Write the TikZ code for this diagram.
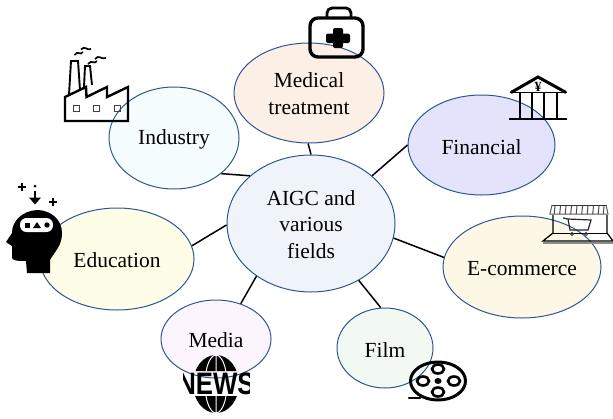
\documentclass[tikz,border=0pt]{standalone}
\usepackage{fontspec}
\setmainfont{Liberation Serif}
\newfontfamily\newsfont{Liberation Sans}
\usetikzlibrary{shapes.geometric}
\definecolor{edgeblue}{HTML}{2F5597}
\definecolor{fillindustry}{HTML}{F5FDFF}
\definecolor{fillmedical}{HTML}{FCEFE6}
\definecolor{fillfinancial}{HTML}{E3E4FB}
\definecolor{fillecom}{HTML}{FDF8E6}
\definecolor{filledu}{HTML}{FDFDE8}
\definecolor{fillmedia}{HTML}{FCF5FD}
\definecolor{fillfilm}{HTML}{F2F8F2}
\definecolor{fillaigc}{HTML}{EFF4FA}
\newcommand{\lowA}{\rule{0pt}{16.5pt}}
\newcommand{\lowB}{\rule{0pt}{18.5pt}}
\tikzset{
  topic/.style={ellipse,draw=edgeblue,line width=1pt,inner sep=0pt,align=center,
    font=\fontsize{21.5}{26.5}\selectfont,text=black},
  link/.style={draw=black,line width=1.5pt},
  ink/.style={draw=black,line width=2.4pt,line join=miter},
  inkthick/.style={draw=black,line width=3.4pt,line join=round,line cap=round}
}
\begin{document}
\begin{tikzpicture}[x=1pt,y=-1pt]
\useasboundingbox (0,0) rectangle (613,418);
% topics
\node[topic,fill=fillindustry,minimum width=130pt,minimum height=102pt] (industry) at (174,138) {\lowB Industry};
\node[topic,fill=fillmedical,minimum width=150pt,minimum height=100pt] (medical) at (309,93) {\lowA Medical\\treatment};
\node[topic,fill=fillfinancial,minimum width=147pt,minimum height=100pt] (financial) at (481.5,145) {\lowB Financial};
\node[topic,fill=fillecom,minimum width=158pt,minimum height=102pt] (ecommerce) at (522,267) {\lowA E-commerce};
\node[topic,fill=filledu,minimum width=154pt,minimum height=102pt] (education) at (117,259) {\lowA Education};
\node[topic,fill=fillmedia,minimum width=110pt,minimum height=78pt] (media) at (216,339) {\lowA Media};
\node[topic,fill=fillfilm,minimum width=96pt,minimum height=80pt] (film) at (385,348) {\lowB Film};
\node[topic,fill=fillaigc,minimum width=168pt,minimum height=137pt] (aigc) at (311,223.5) {\lowA AIGC and\\various\\fields};
% links
\draw[link] (medical.-91) -- (aigc.90);
\draw[link] (industry.-37) -- (aigc.142.5);
\draw[link] (financial.180) -- (aigc.38);
\draw[link] (ecommerce.173) -- (aigc.-10);
\draw[link] (education.10) -- (aigc.181);
\draw[link] (media.55) -- (aigc.224);
\draw[link] (film.96) -- (aigc.-50.5);
% factory
\draw[ink] (65,121) -- (128,121) -- (128,87) -- (107,97) -- (107,87) -- (86.500,97) -- (86,87) -- (65,97) -- cycle;
\draw[ink,line width=1.9pt] (69,95) -- (71,61) -- (78,61) -- (80,90);
\draw[ink,line width=1.9pt] (84,87) -- (85,66) -- (90,66) -- (92,85);
\foreach \wx in {76,96.500,117} \draw[black!75,line width=1pt] (\wx-3,105) rectangle (\wx+3,111);
\draw[ink,line width=1.7pt] (74.500,55) .. controls (78,50) and (80,56) .. (83,52) (81,49.500) .. controls (85,45) and (87,51) .. (91,49);
\draw[ink,line width=1.7pt] (88,64) .. controls (92,59) and (94,65) .. (97,61) (95,59) .. controls (99,54) and (101,60) .. (106,58);
% medical kit
\draw[inkthick,rounded corners=8pt] (336,18) -- (310,18) -- (310,57) -- (363,57) -- (363,18) -- cycle;
\draw[inkthick,line width=2.8pt,rounded corners=5pt] (327,17) -- (327,8) -- (351,8) -- (351,17);
\fill[black,rounded corners=2pt] (326,33.500) rectangle (350,43);
\fill[black,rounded corners=2pt] (333,28) rectangle (343,48);
% bank
\draw[black,line width=3pt,line join=miter] (511,92.500) -- (538,77) -- (566,92.500);
\draw[black,line width=1.5pt] (510,92.500) -- (567,92.500);
\foreach \cx in {520,532,544,557} \draw[black,line width=2.2pt] (\cx,92) -- (\cx,119);
\draw[black,line width=2.2pt] (509,119) -- (567,119);
\node[inner sep=0pt,font=\fontsize{14}{14}\bfseries\selectfont] (yen) at (538,87) {¥};
% shop
\draw[black!80,line width=1pt] (552,205) -- (607,205);
\draw[black!65,line width=1pt] (552,205) -- (550,214) -- (608,214) -- (606,205);
\foreach \sx in {555,560.500,566,571.500,577,582.500,588,593.500,599,604} \draw[black!70,line width=1pt] (\sx,206) -- (\sx-0.800,214);
\draw[black,line width=1.2pt] (553,215) -- (553,233) -- (543,241) -- (613,241) -- (607,233) -- (607,215);
\draw[black,line width=1pt] (553,233) -- (607,233);
\fill[black!45] (543,241.500) rectangle (613,243.500);
\draw[black!85,line width=1.2pt] (563,218) -- (568,219) -- (591,220) -- (588,230) -- (570,230) -- (568,219);
\draw[black!80,line width=1pt] (572,234) circle (1.500) (586,234) circle (1.500);
% head
\fill[black] (37,210) .. controls (22,211) and (12,221) .. (12,233) -- (6,242) -- (12,246) -- (12,257) .. controls (12,260) and (14,261) .. (26,261) -- (27,273) -- (50,273) -- (50,260) .. controls (56,250) and (62,245) .. (62,233) .. controls (62,219) and (50,210) .. (37,210) -- cycle;
\fill[white,rounded corners=6.500pt] (20,218) rectangle (53,232);
\fill[black] (25,222.500) rectangle (30,227.500);
\fill[black] (33,228) -- (37,222) -- (41,228) -- cycle;
\fill[black] (47,225) circle (2.700);
\fill[black] (35,186) circle (1.500);
\draw[black,line width=2pt] (35,191) -- (35,200);
\fill[black] (29,197.500) -- (41,197.500) -- (35,204.500) -- cycle;
\draw[black,line width=2pt] (18,187) -- (26,187) (22,183) -- (22,191);
\draw[black,line width=2pt] (49,202) -- (57,202) (53,198) -- (53,206);
% news globe
\begin{scope}
\clip (180,350) rectangle (250,371) (180,396) rectangle (250,418);
\fill[black] (216,384) ellipse (23 and 29);
\draw[white,line width=1pt] (216,350) -- (216,418) (216,384) ellipse (11 and 29);
\end{scope}
\begin{scope}
\clip (183,370) rectangle (249,397);
\node[inner sep=0pt,font=\fontsize{31}{31}\newsfont\bfseries\selectfont,xscale=0.83,text=black] (news) at (216,383.500) {NEWS};
\end{scope}
% film reel
\draw[black,line width=3pt] (438,381) ellipse (27.500 and 19);
\draw[black,line width=2.500pt,line cap=round] (409,398) -- (420,398);
\foreach \hx/\hy in {438/369,438/392,423/381,454/381} \draw[black,line width=2.600pt] (\hx,\hy) ellipse (6 and 4.500);
\fill[black] (438,381) ellipse (3.500 and 3);
\end{tikzpicture}
\end{document}
